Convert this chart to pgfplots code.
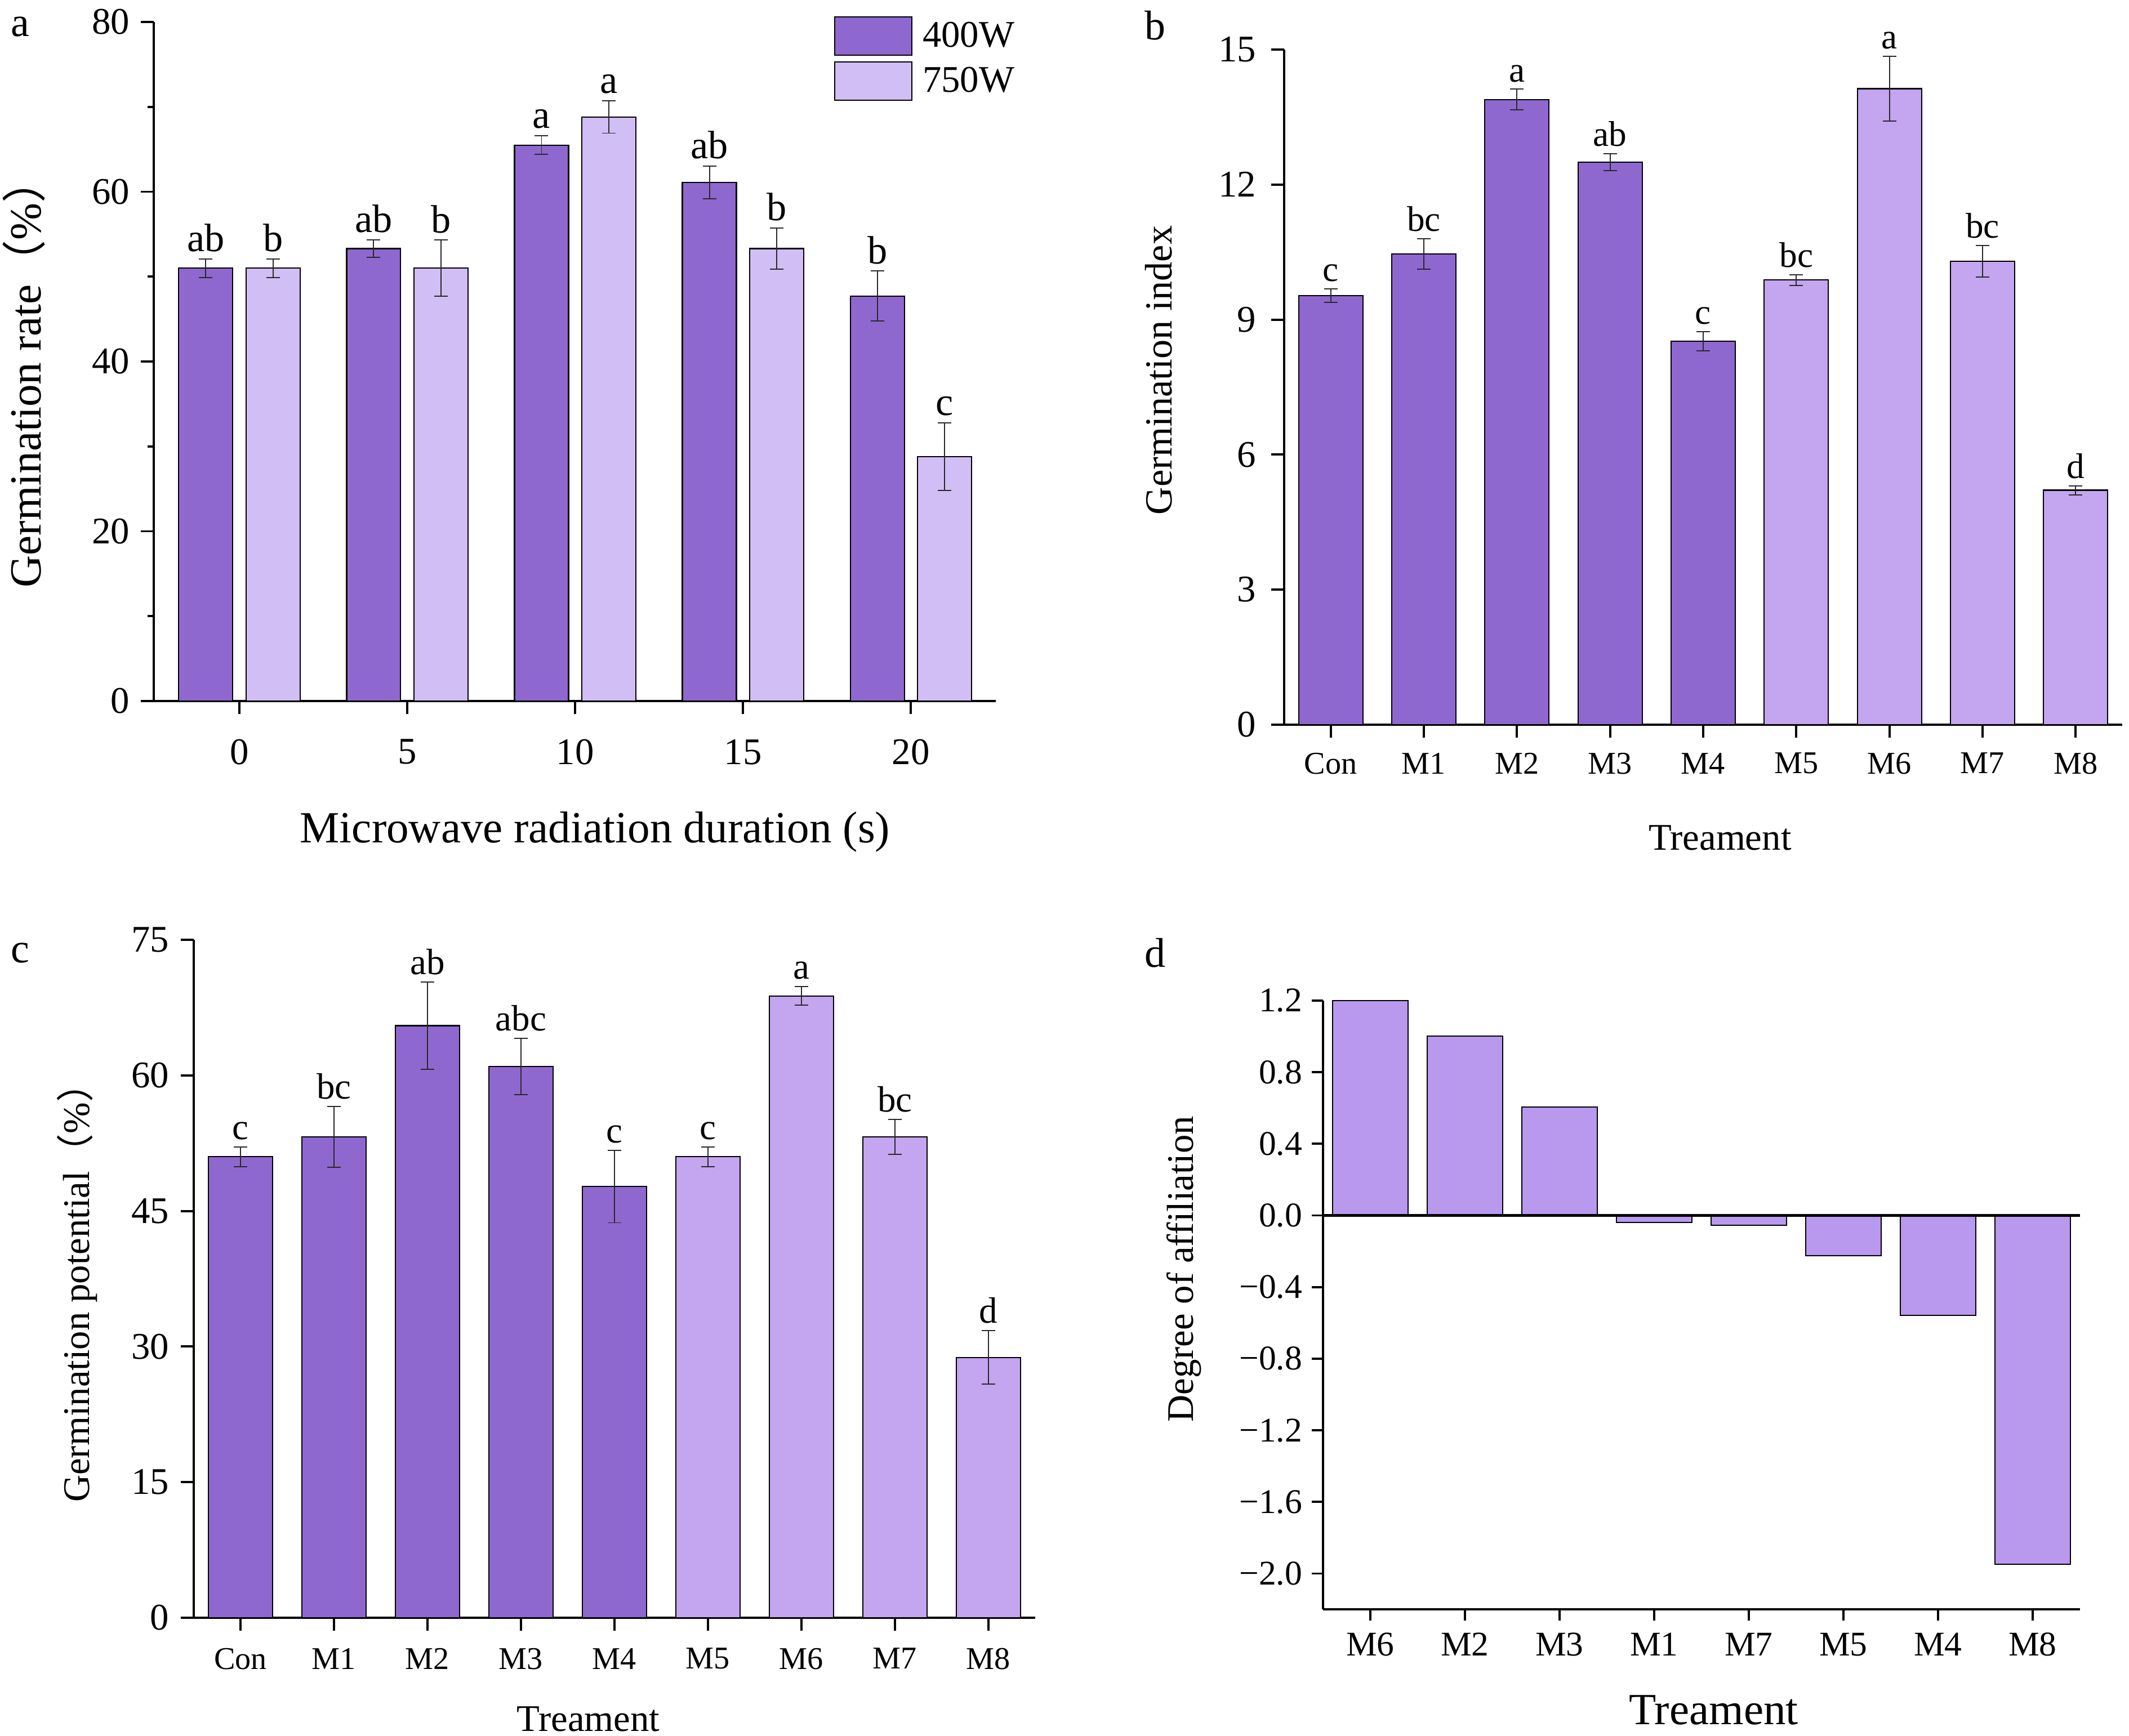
\documentclass[border=0pt]{standalone}
\usepackage{pgfplots}
\pgfplotsset{compat=1.18}
\usepackage{pgfplotstable}
\usepackage{fontspec}
\setmainfont{Liberation Serif}
\newfontfamily\cjk{Noto Sans CJK SC}
\newcommand{\fs}[1]{\fontsize{#1}{#1}\selectfont}
\definecolor{dk}{RGB}{143,104,207}
\definecolor{lta}{RGB}{209,190,244}
\definecolor{ltb}{RGB}{196,165,240}
\definecolor{ltd}{RGB}{185,153,238}
\definecolor{eb}{RGB}{40,40,40}

\pgfplotstableread{
x y e lab
0 51.0 1.1 ab
5 53.3 1.05 ab
10 65.5 1.1 a
15 61.1 1.9 ab
20 47.7 2.95 b
}\dataAfour
\pgfplotstableread{
x y e lab
0 51.0 1.1 b
5 51.0 3.3 b
10 68.8 1.9 a
15 53.3 2.45 b
20 28.8 4.0 c
}\dataAseven
\pgfplotstableread{
x y e lab
0 9.53 0.15 c
1 10.46 0.34 bc
2 13.89 0.23 a
3 12.50 0.19 ab
4 8.52 0.21 c
}\dataBdk
\pgfplotstableread{
x y e lab
5 9.88 0.12 bc
6 14.13 0.72 a
7 10.30 0.35 bc
8 5.21 0.10 d
}\dataBlt
\pgfplotstableread{
x y e lab
0 51.0 1.1 c
1 53.2 3.35 bc
2 65.5 4.85 ab
3 61.0 3.1 abc
4 47.7 4.0 c
}\dataCdk
\pgfplotstableread{
x y e lab
5 51.0 1.1 c
6 68.8 1.05 a
7 53.2 1.95 bc
8 28.8 2.95 d
}\dataClt
\pgfplotstableread{
x y
0 1.2
1 1.003
2 0.606
3 -0.04
4 -0.055
5 -0.225
6 -0.557
7 -1.948
}\dataD

\pgfplotsset{
  base/.style={
    scale only axis, anchor=south west, clip=false,
    axis lines=left, axis line style={-, black, line width=1.3pt},
    tick align=outside, major tick length=0.23cm, minor tick length=0.11cm,
    tick style={black, line width=1.1pt},
    every tick label/.append style={inner sep=0pt, outer sep=0pt},
    xticklabel style={anchor=north},
    yticklabel style={anchor=east},
    every axis x label/.append style={anchor=center},
    every axis y label/.append style={anchor=center},
  },
  ebars/.style={error bars/.cd, y dir=both, y explicit,
     error bar style={line width=0.55pt, eb},
     error mark options={rotate=90, mark size=0.12cm, line width=0.55pt, eb}},
  bars/.style={ybar, draw=black, line width=0.6pt, bar width=#1, bar shift=0pt},
  labs/.style={draw=none, mark=none, forget plot, nodes near coords, point meta=explicit symbolic,
     every node near coord/.append style={anchor=south, inner sep=0pt, yshift=0.12cm, font=\fs{#1}, black}},
}

\begin{document}
\begin{tikzpicture}
\useasboundingbox (0,0) rectangle (37.80,-30.83);
\node[font=\fs{21}] at (0.36,-0.48) {a};
\node[font=\fs{21}] at (20.51,-0.45) {b};
\node[font=\fs{21}] at (0.36,-16.92) {c};
\node[font=\fs{21}] at (20.51,-16.92) {d};

% ---------------- panel a
\begin{axis}[base, at={(2.73cm,-12.45cm)}, width=14.95cm, height=12.06cm,
  xmin=-2.55, xmax=22.53, ymin=0, ymax=80,
  xtick={0,5,10,15,20}, xticklabels={0,5,10,15,20},
  ytick={0,20,40,60,80}, yticklabels={0,20,40,60,80},
  minor ytick={10,30,50,70},
  xticklabel shift=0.45cm, yticklabel shift=0.20cm,
  xticklabel style={font=\fs{19}}, yticklabel style={font=\fs{19}},
  xlabel={Microwave radiation duration (s)},
  ylabel={Germination rate{\cjk （}\%{\cjk ）}},
  xlabel style={at={(axis description cs:0.524,-0.1924)}, font=\fs{22.5}},
  ylabel style={at={(axis description cs:-0.1545,0.483)}, font=\fs{22.5}},
  legend style={draw=none, fill=none, at={(0.808,1.0083)}, anchor=north west,
    inner sep=0pt, outer sep=0pt, row sep=0.1cm, column sep=0.18cm,
    font=\fs{19}, cells={anchor=west}, nodes={inner sep=0pt}},
]
\addplot[bars=1.61, fill=dk,
  legend image code/.code={\draw[fill=dk, draw=black, line width=0.6pt] (0cm,-0.34cm) rectangle (1.37cm,0.34cm);},
  ebars] table[x expr=\thisrow{x}-1, y=y, y error=e] {\dataAfour};
\addlegendentry{400W}
\addplot[bars=1.61, fill=lta,
  legend image code/.code={\draw[fill=lta, draw=black, line width=0.6pt] (0cm,-0.34cm) rectangle (1.37cm,0.34cm);},
  ebars] table[x expr=\thisrow{x}+1, y=y, y error=e] {\dataAseven};
\addlegendentry{750W}
\addplot[labs=20] table[x expr=\thisrow{x}-1, y expr=\thisrow{y}+\thisrow{e}, meta=lab] {\dataAfour};
\addplot[labs=20] table[x expr=\thisrow{x}+1, y expr=\thisrow{y}+\thisrow{e}, meta=lab] {\dataAseven};
\end{axis}

% ---------------- panel b
\begin{axis}[base, at={(22.80cm,-12.87cm)}, width=14.88cm, height=11.99cm,
  xmin=-0.5, xmax=8.5, ymin=0, ymax=15,
  xtick={0,...,8}, xticklabels={Con,M1,M2,M3,M4,M5,M6,M7,M8},
  ytick={0,3,6,9,12,15}, yticklabels={0,3,6,9,12,15},
  xticklabel shift=0.27cm, yticklabel shift=0.27cm,
  xticklabel style={font=\fs{16}}, yticklabel style={font=\fs{19}},
  xlabel={Treament}, ylabel={Germination index},
  xlabel style={at={(axis description cs:0.52,-0.1676)}, font=\fs{19}},
  ylabel style={at={(axis description cs:-0.1499,0.525)}, font=\fs{19.4}},
]
\addplot[bars=0.69, fill=dk, ebars] table[x=x, y=y, y error=e] {\dataBdk};
\addplot[bars=0.69, fill=ltb, ebars] table[x=x, y=y, y error=e] {\dataBlt};
\addplot[labs=18] table[x=x, y expr=\thisrow{y}+\thisrow{e}, meta=lab] {\dataBdk};
\addplot[labs=18] table[x=x, y expr=\thisrow{y}+\thisrow{e}, meta=lab] {\dataBlt};
\end{axis}

% ---------------- panel c
\begin{axis}[base, at={(3.44cm,-28.73cm)}, width=14.94cm, height=12.04cm,
  xmin=-0.5, xmax=8.5, ymin=0, ymax=75,
  xtick={0,...,8}, xticklabels={Con,M1,M2,M3,M4,M5,M6,M7,M8},
  ytick={0,15,30,45,60,75}, yticklabels={0,15,30,45,60,75},
  xticklabel shift=0.31cm, yticklabel shift=0.21cm,
  xticklabel style={font=\fs{16}}, yticklabel style={font=\fs{19}},
  xlabel={Treament}, ylabel={Germination potential{\cjk （}\%{\cjk ）}},
  xlabel style={at={(axis description cs:0.469,-0.1495)}, font=\fs{19}},
  ylabel style={at={(axis description cs:-0.1386,0.493)}, font=\fs{19}},
]
\addplot[bars=0.69, fill=dk, ebars] table[x=x, y=y, y error=e] {\dataCdk};
\addplot[bars=0.69, fill=ltb, ebars] table[x=x, y=y, y error=e] {\dataClt};
\addplot[labs=18.5] table[x=x, y expr=\thisrow{y}+\thisrow{e}, meta=lab] {\dataCdk};
\addplot[labs=18.5] table[x=x, y expr=\thisrow{y}+\thisrow{e}, meta=lab] {\dataClt};
\end{axis}

% ---------------- panel d
\begin{axis}[base, at={(23.49cm,-28.58cm)}, width=13.44cm, height=10.81cm,
  xmin=-0.5, xmax=7.5, ymin=-2.2, ymax=1.2,
  xtick={0,...,7}, xticklabels={M6,M2,M3,M1,M7,M5,M4,M8},
  ytick={-2.0,-1.6,-1.2,-0.8,-0.4,0,0.4,0.8,1.2},
  yticklabels={−2.0,−1.6,−1.2,−0.8,−0.4,0.0,0.4,0.8,1.2},
  major tick length=0.20cm,
  xticklabel shift=0.22cm, yticklabel shift=0.17cm,
  xticklabel style={font=\fs{17.5}}, yticklabel style={font=\fs{17.5}},
  xlabel={Treament}, ylabel={Degree of affiliation},
  xlabel style={at={(axis description cs:0.516,-0.1656)}, font=\fs{22.5}},
  ylabel style={at={(axis description cs:-0.1838,0.559)}, font=\fs{19}},
]
\addplot[bars=0.8, fill=ltd] table[x=x, y=y] {\dataD};
\addplot[black, line width=1.2pt, forget plot] coordinates {(-0.5,0) (7.5,0)};
\end{axis}
\end{tikzpicture}
\end{document}
